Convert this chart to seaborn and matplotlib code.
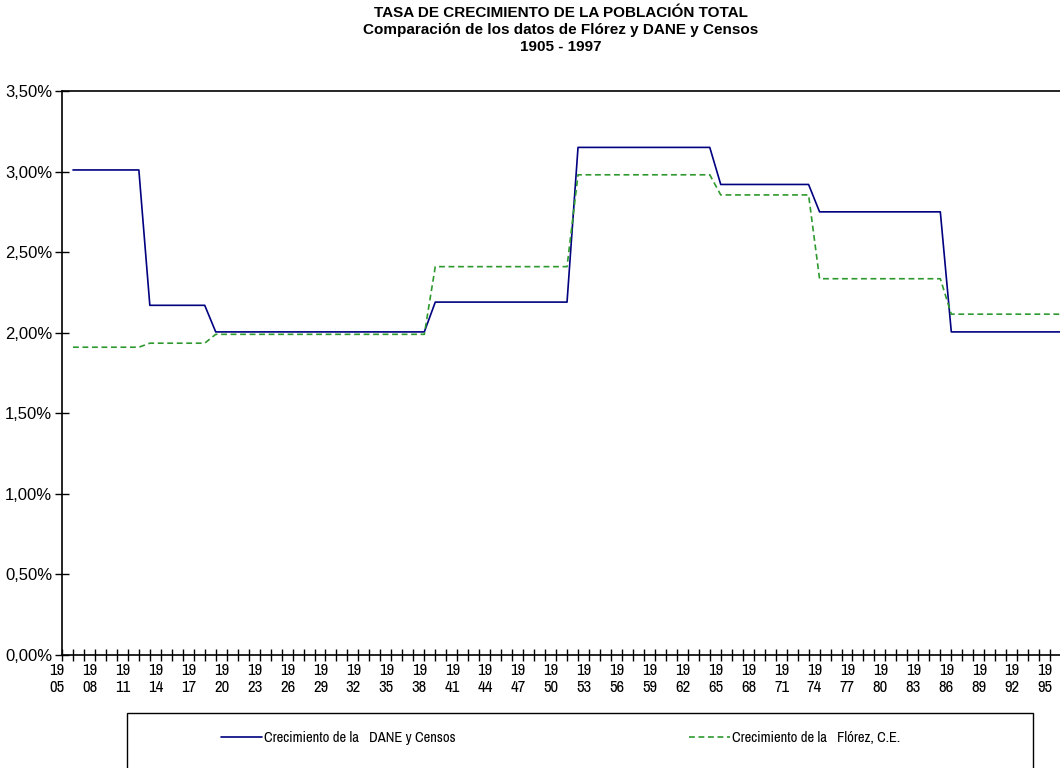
import pandas as pd
import seaborn as sns
import matplotlib
matplotlib.use("Agg")
import matplotlib.pyplot as plt
import matplotlib.transforms as mtransforms
from matplotlib.ticker import FuncFormatter, MultipleLocator
from matplotlib.patches import Rectangle

sns.set_style("white")
plt.rcParams["font.family"] = ["Liberation Sans", "DejaVu Sans"]
plt.rcParams["text.color"] = "black"
NARROW = ["Liberation Sans Narrow", "Arimo Narrow", "Archivo Narrow", "PT Sans Narrow",
          "Roboto Condensed", "Liberation Sans"]

# yearly growth rate (%), 1906 - 1996
years = list(range(1906, 1997))
dane = [
    3.01, 3.01, 3.01, 3.01, 3.01, 3.01, 3.01,                      # 1906-1912
    2.17, 2.17, 2.17, 2.17, 2.17, 2.17,                            # 1913-1918
    2.005, 2.005, 2.005, 2.005, 2.005, 2.005, 2.005, 2.005, 2.005, 2.005,
    2.005, 2.005, 2.005, 2.005, 2.005, 2.005, 2.005, 2.005, 2.005, 2.005,  # 1919-1938
    2.19, 2.19, 2.19, 2.19, 2.19, 2.19, 2.19, 2.19, 2.19, 2.19, 2.19, 2.19, 2.19,  # 1939-1951
    3.15, 3.15, 3.15, 3.15, 3.15, 3.15, 3.15, 3.15, 3.15, 3.15, 3.15, 3.15, 3.15,  # 1952-1964
    2.92, 2.92, 2.92, 2.92, 2.92, 2.92, 2.92, 2.92, 2.92,          # 1965-1973
    2.75, 2.75, 2.75, 2.75, 2.75, 2.75, 2.75, 2.75, 2.75, 2.75, 2.75, 2.75,  # 1974-1985
    2.005, 2.005, 2.005, 2.005, 2.005, 2.005, 2.005, 2.005, 2.005, 2.005, 2.005,  # 1986-1996
]
florez = [
    1.91, 1.91, 1.91, 1.91, 1.91, 1.91, 1.91,
    1.935, 1.935, 1.935, 1.935, 1.935, 1.935,
    1.99, 1.99, 1.99, 1.99, 1.99, 1.99, 1.99, 1.99, 1.99, 1.99,
    1.99, 1.99, 1.99, 1.99, 1.99, 1.99, 1.99, 1.99, 1.99, 1.99,
    2.41, 2.41, 2.41, 2.41, 2.41, 2.41, 2.41, 2.41, 2.41, 2.41, 2.41, 2.41, 2.41,
    2.98, 2.98, 2.98, 2.98, 2.98, 2.98, 2.98, 2.98, 2.98, 2.98, 2.98, 2.98, 2.98,
    2.855, 2.855, 2.855, 2.855, 2.855, 2.855, 2.855, 2.855, 2.855,
    2.335, 2.335, 2.335, 2.335, 2.335, 2.335, 2.335, 2.335, 2.335, 2.335, 2.335, 2.335,
    2.115, 2.115, 2.115, 2.115, 2.115, 2.115, 2.115, 2.115, 2.115, 2.115, 2.115,
]
series_names = ["Crecimiento de la   DANE y Censos", "Crecimiento de la   Flórez, C.E."]
label_years = list(range(1905, 1996, 3))

df = pd.DataFrame({"Año": years * 2,
                   "Tasa": dane + florez,
                   "Serie": [series_names[0]] * len(years) + [series_names[1]] * len(years)})

fig = plt.figure(figsize=(10.6, 7.68), dpi=100)
ax = fig.add_axes([62 / 1060, 1 - 655 / 768, 1 - 62 / 1060, (655 - 91) / 768])

sns.lineplot(data=df, x="Año", y="Tasa", hue="Serie", style="Serie",
             palette={series_names[0]: "#000080", series_names[1]: "#2e992e"},
             dashes={series_names[0]: "", series_names[1]: (3.5, 2.2)},
             linewidth=1.2, legend=False, ax=ax)

ax.set_xlim(1905, 1995.9)
ax.set_ylim(0, 3.5)
ax.set_xlabel("")
ax.set_ylabel("")
for s in ["left", "bottom", "top"]:
    ax.spines[s].set_color("black")
    ax.spines[s].set_linewidth(1.2)
ax.spines["right"].set_visible(False)

ax.yaxis.set_major_locator(MultipleLocator(0.5))
ax.yaxis.set_major_formatter(FuncFormatter(lambda v, p: f"{v:.2f}%".replace(".", ",")))
ax.set_xticks(label_years)
ax.set_xticklabels([f"{y // 100}\n{y % 100:02d}" for y in label_years],
                   family=NARROW, fontsize=12, linespacing=1.1)
ax.xaxis.set_minor_locator(MultipleLocator(1))
ax.tick_params(axis="x", which="both", bottom=True, direction="inout", length=8,
               width=1, colors="black", pad=2)
ax.tick_params(axis="y", left=True, direction="inout", length=10, width=1,
               colors="black", labelsize=12, pad=2)
offset = mtransforms.ScaledTranslation(-5 / 100, 0, fig.dpi_scale_trans)
for lab in ax.get_xticklabels():
    lab.set_transform(lab.get_transform() + offset)

title_lines = ["TASA DE CRECIMIENTO DE LA POBLACIÓN TOTAL",
               "Comparación de los datos de Flórez y DANE y Censos",
               "1905 - 1997"]
for i, t in enumerate(title_lines):
    fig.text(561 / 1060, 1 - (13 + 17 * i) / 768, t, ha="center", va="center",
             fontsize=11, fontweight="bold")

# legend box (runs off the bottom edge in the original)
fig.patches.append(Rectangle((127 / 1060, -0.05), (1033 - 127) / 1060, 0.05 + 1 - 713 / 768,
                             transform=fig.transFigure, fill=False, edgecolor="black", linewidth=1))
lines = ax.get_lines()[:2]
fig.legend(lines, series_names, loc="center left", bbox_to_anchor=(221 / 1060, 1 - 738 / 768),
           ncol=2, frameon=False, handlelength=2.8, handletextpad=0.15, columnspacing=16,
           borderaxespad=0, borderpad=0, prop={"family": NARROW, "size": 10.5})

fig.savefig("out.png", dpi=100)
